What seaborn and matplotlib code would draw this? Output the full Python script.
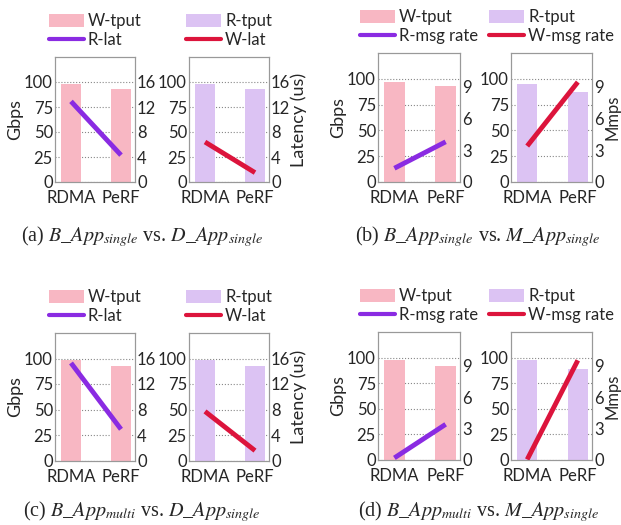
import matplotlib
matplotlib.use("Agg")
import matplotlib.pyplot as plt
import seaborn as sns
from matplotlib.patches import Patch
from matplotlib.lines import Line2D

sns.set_style("white")
plt.rcParams['font.family'] = ['Lato', 'DejaVu Sans']
plt.rcParams['mathtext.fontset'] = 'stix'

systems = ['RDMA', 'PeRF']

# tput bars (Gbps) for each of the 8 axes, row by row
w_tput_a = [98, 93.5]
r_tput_a = [98, 93.5]
w_tput_b = [97, 93]
r_tput_b = [95, 87]
w_tput_c = [99, 93]
r_tput_c = [98.5, 92.5]
w_tput_d = [97.5, 92]
r_tput_d = [97.5, 88.5]

# secondary metrics
r_lat_a = [12.9, 4.3]
w_lat_a = [6.4, 1.5]
r_msg_b = [1.3, 3.8]
w_msg_b = [3.4, 9.45]
r_lat_c = [15.3, 4.9]
w_lat_c = [7.7, 1.55]
r_msg_d = [0.2, 3.4]
w_msg_d = [0.05, 9.5]

captions = [r'(a) $B\_App_{single}$ vs. $D\_App_{single}$',
            r'(b) $B\_App_{single}$ vs. $M\_App_{single}$',
            r'(c) $B\_App_{multi}$ vs. $D\_App_{single}$',
            r'(d) $B\_App_{multi}$ vs. $M\_App_{single}$']

PINK = '#F8B7C3'
LAV = '#DCC3F3'
PURPLE = '#8A2BE2'
RED = '#DC143C'
SPINE = '#999999'
FS = 12
LFS = 13

W, H = 621, 525
fig = plt.figure(figsize=(W / 100, H / 100), dpi=100)


def box(x0, x1, top, bottom):
    return [x0 / W, 1 - bottom / H, (x1 - x0) / W, (bottom - top) / H]


def panel(rect, bars, bar_color, bar_label, line, line_color, line_label,
          rlim, rticks, left_label=None, right_label=None, rfs=LFS, rpad=0):
    ax = fig.add_axes(rect)
    sns.barplot(x=systems, y=bars, ax=ax, color=bar_color, width=0.4,
                saturation=1, edgecolor='none')
    ax.set_xlim(-0.32, 1.28)
    ax.set_ylim(0, 125)
    ax.set_yticks([0, 25, 50, 75, 100])
    ax.set_axisbelow(True)
    ax.yaxis.grid(True, linestyle=':', color='#888888', linewidth=0.8)
    ax.xaxis.grid(False)
    ax.set_xlabel('')
    ax.set_ylabel(left_label if left_label else '', fontsize=LFS, labelpad=1)
    ax.tick_params(axis='y', length=0, pad=1.5, labelsize=FS)
    ax.tick_params(axis='x', length=2, pad=4, labelsize=FS, color=SPINE)

    ax2 = ax.twinx()
    sns.lineplot(x=[0, 1], y=line, ax=ax2, color=line_color, linewidth=3.5,
                 solid_capstyle='butt')
    ax2.set_ylim(0, rlim)
    ax2.set_yticks(rticks)
    ax2.tick_params(axis='y', length=0, pad=1.5, labelsize=FS)
    ax2.set_ylabel(right_label if right_label else '', fontsize=rfs,
                   labelpad=rpad)
    ax2.grid(False)
    for a in (ax, ax2):
        for s in a.spines.values():
            s.set_color(SPINE)
            s.set_linewidth(0.8)

    handles = [Patch(facecolor=bar_color, edgecolor='none', label=bar_label),
               Line2D([], [], color=line_color, linewidth=3, label=line_label)]
    ax2.legend(handles=handles, loc='lower center', bbox_to_anchor=(0.5, 1.0),
               frameon=False, fontsize=FS, handlelength=2.1, handleheight=0.75,
               handletextpad=0.25, labelspacing=0.15, borderaxespad=0.55,
               borderpad=0)
    return ax


lat_ticks = [0, 4, 8, 12, 16]
msg_ticks = [0, 3, 6, 9]

# row 1
panel(box(55, 135, 57, 182), w_tput_a, PINK, 'W-tput', r_lat_a, PURPLE,
      'R-lat', 20, lat_ticks, left_label='Gbps')
panel(box(189, 269, 57, 182), r_tput_a, LAV, 'R-tput', w_lat_a, RED,
      'W-lat', 20, lat_ticks, right_label='Latency (us)')
panel(box(378, 460, 53, 182), w_tput_b, PINK, 'W-tput', r_msg_b, PURPLE,
      'R-msg rate', 12.2, msg_ticks, left_label='Gbps')
panel(box(511, 592, 53, 182), r_tput_b, LAV, 'R-tput', w_msg_b, RED,
      'W-msg rate', 12.2, msg_ticks, right_label='Mmps', rfs=12, rpad=0.5)

# row 2
panel(box(55, 135, 333, 460.5), w_tput_c, PINK, 'W-tput', r_lat_c, PURPLE,
      'R-lat', 20, lat_ticks, left_label='Gbps')
panel(box(189, 269, 333, 460.5), r_tput_c, LAV, 'R-tput', w_lat_c, RED,
      'W-lat', 20, lat_ticks, right_label='Latency (us)')
panel(box(378, 460, 332, 460), w_tput_d, PINK, 'W-tput', r_msg_d, PURPLE,
      'R-msg rate', 12.2, msg_ticks, left_label='Gbps')
panel(box(511, 592, 332, 460), r_tput_d, LAV, 'R-tput', w_msg_d, RED,
      'W-msg rate', 12.2, msg_ticks, right_label='Mmps', rfs=12, rpad=0.5)

cap_pos = [(142, 237), (478, 237), (142, 512), (478, 512)]
for (cx, cy), txt in zip(cap_pos, captions):
    fig.text(cx / W, 1 - cy / H, txt, ha='center', va='center',
             fontsize=14.5, family='Liberation Serif')

fig.savefig('out.png', dpi=100)
